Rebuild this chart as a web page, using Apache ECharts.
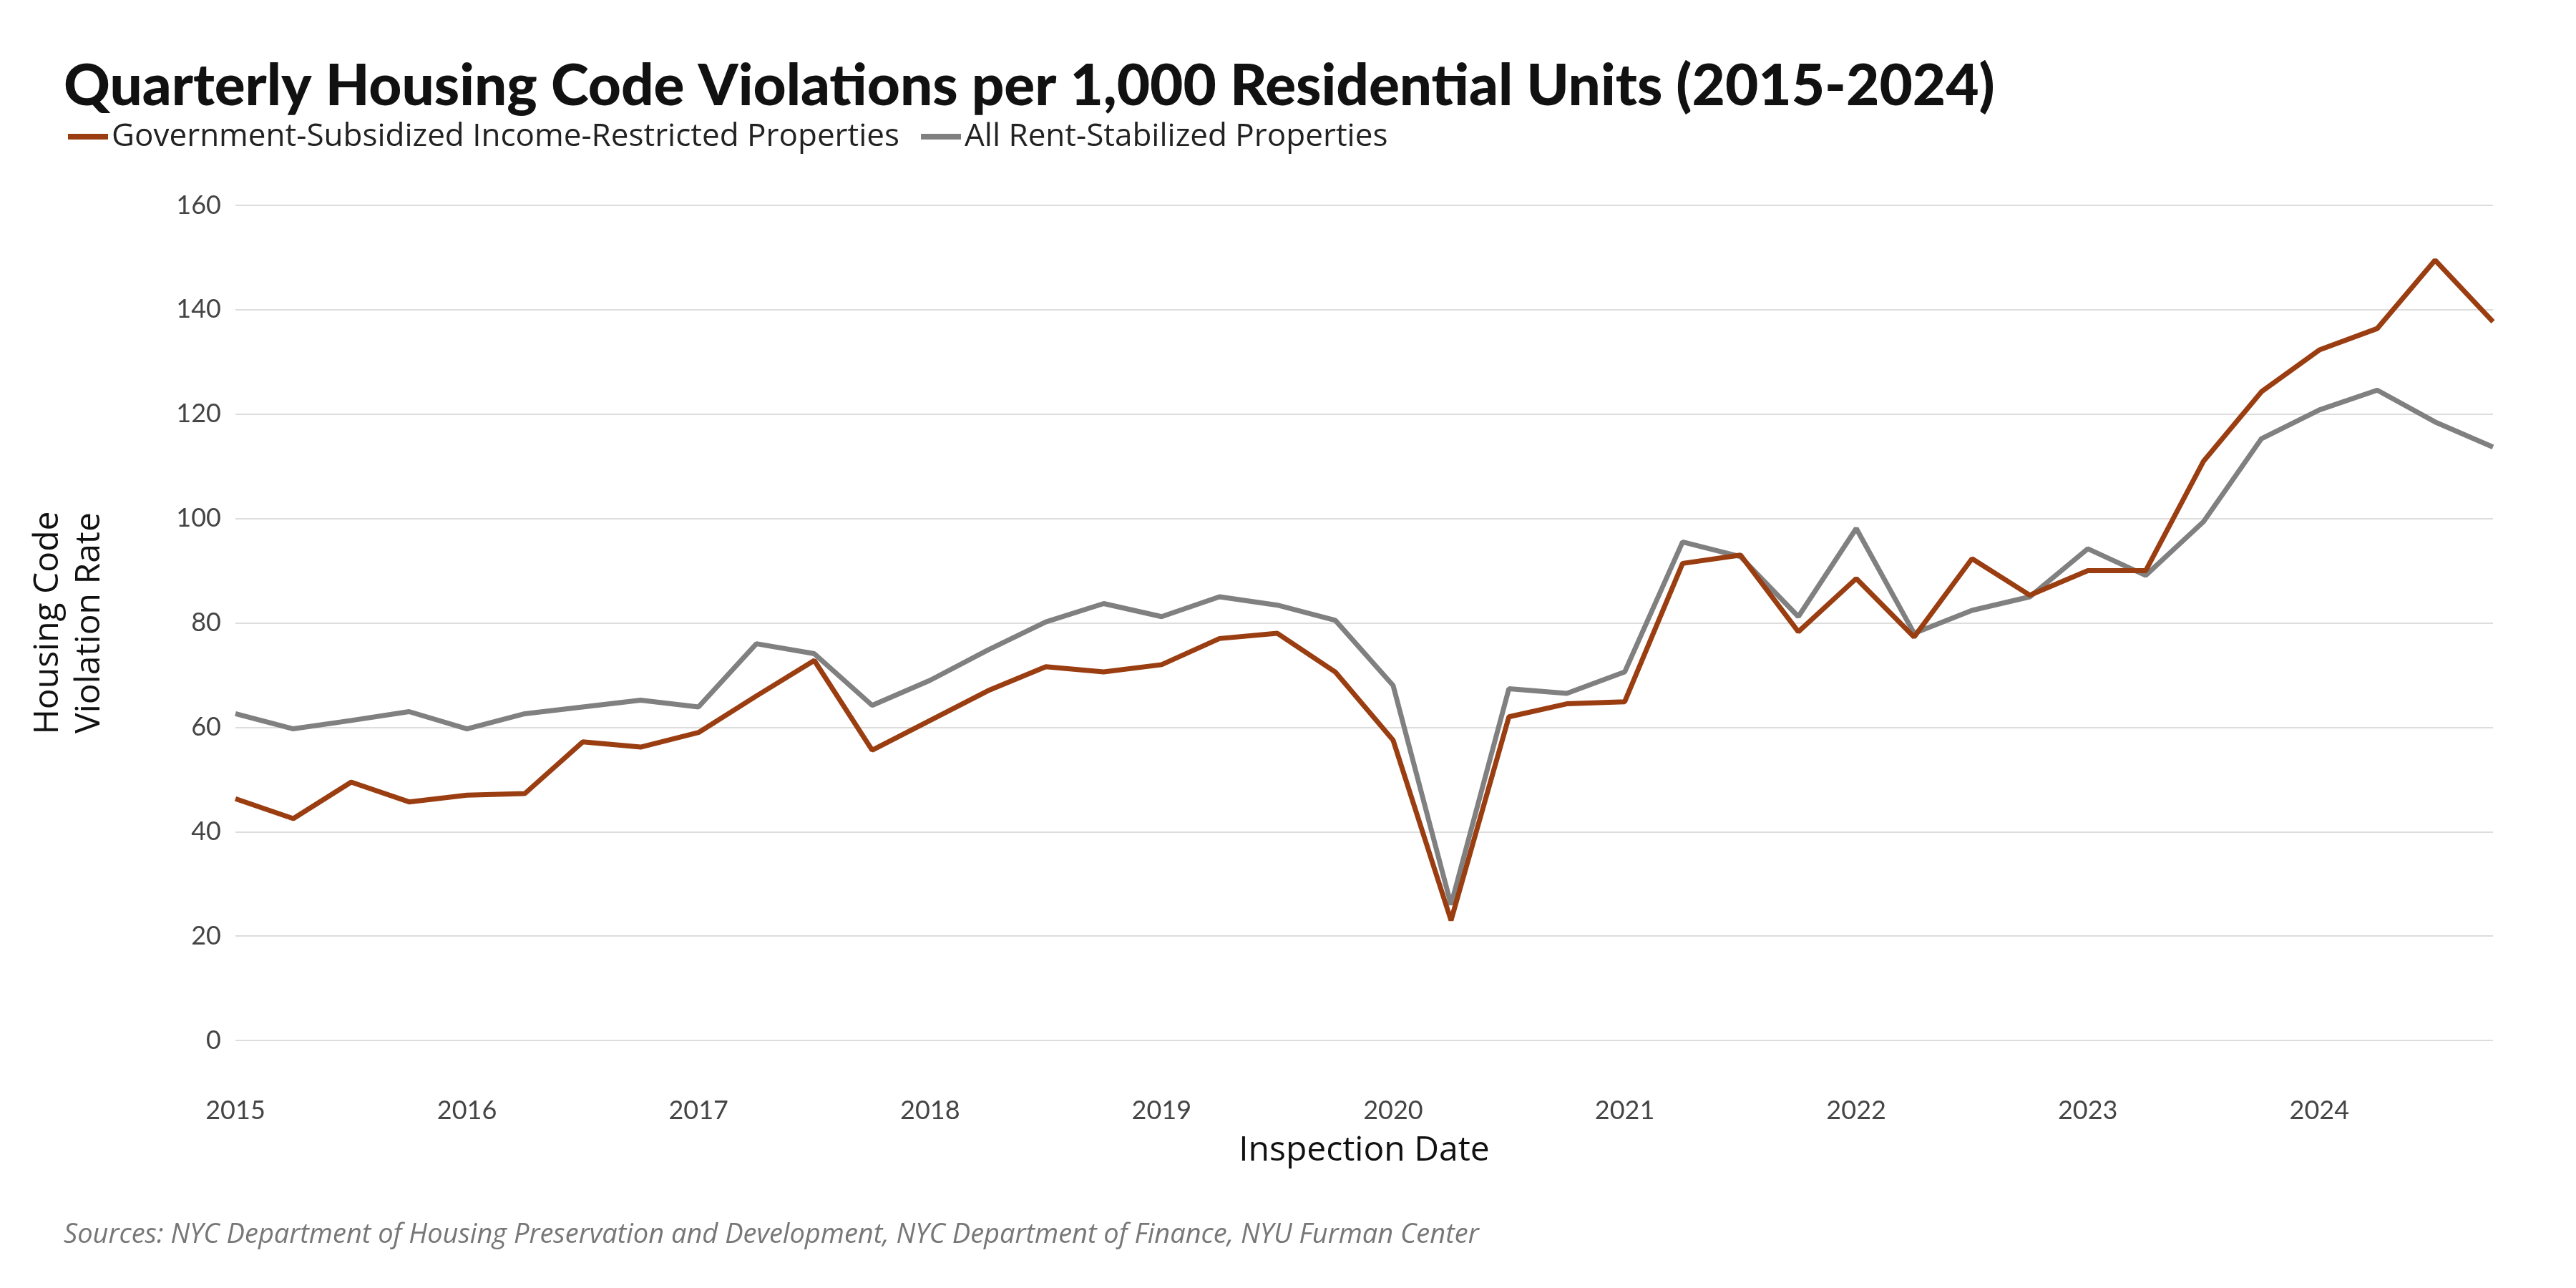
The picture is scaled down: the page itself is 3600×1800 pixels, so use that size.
<!DOCTYPE html>
<html><head><meta charset="utf-8">
<script src="https://cdn.jsdelivr.net/npm/echarts@6/dist/echarts.min.js"></script>
<style>html,body{margin:0;background:#fff}#c{width:3600px;height:1800px}</style>
</head><body><div id="c"></div>
<script>
const years = [2015, 2016, 2017, 2018, 2019, 2020, 2021, 2022, 2023, 2024]
const quarterOffsets = [0, 0.25, 0.5, 0.75]
const subsidized = [
  46.3, 42.5, 49.5, 45.7, 47, 47.3, 57.2, 56.2, 59, 66,
  72.8, 55.6, 61.3, 67, 71.6, 70.6, 72, 77, 78, 70.6,
  57.5, 23, 62, 64.5, 64.9, 91.4, 93, 78.3, 88.5, 77.3,
  92.3, 85.3, 90, 90, 111, 124.3, 132.3, 136.4, 149.5, 137.7
]
const stabilized = [
  62.6, 59.7, 61.3, 63, 59.7, 62.6, 63.9, 65.2, 63.9, 76,
  74.1, 64.2, 69, 74.8, 80.2, 83.7, 81.2, 85, 83.4, 80.5,
  68, 26, 67.4, 66.5, 70.6, 95.5, 92.7, 81.2, 98.1, 78,
  82.4, 85, 94.2, 89.1, 99.4, 115.3, 120.8, 124.6, 118.5, 113.7
]

const dates = years.flatMap(y => quarterOffsets.map(q => y + q))
const pairs = (vals) => vals.map((v, i) => [dates[i], v])

const chart = echarts.init(document.getElementById('c'))
const font = 'Lato'
chart.setOption({
  animation: false,
  title: [
    {
      text: 'Quarterly Housing Code Violations per 1,000 Residential Units (2015-2024)',
      left: 84, top: 76,
      textStyle: { fontFamily: font, fontWeight: 900, fontSize: 80, color: '#111' }
    },
    {
      text: 'Sources: NYC Department of Housing Preservation and Development, NYC Department of Finance, NYU Furman Center',
      left: 84, top: 1702,
      textStyle: { fontFamily: 'Open Sans', fontStyle: 'italic', fontWeight: 'normal', fontSize: 38, color: '#777' }
    }
  ],
  legend: {
    left: 90, top: 164, itemWidth: 56, itemHeight: 8, itemGap: 30,
    icon: 'rect',
    textStyle: { fontFamily: 'Open Sans', fontSize: 44, color: '#222' },
    data: ['Government-Subsidized Income-Restricted Properties', 'All Rent-Stabilized Properties']
  },
  grid: { left: 329, right: 116, top: 287, bottom: 346 },
  xAxis: {
    type: 'value', min: 2015, max: 2024.75, interval: 1,
    name: 'Inspection Date', nameLocation: 'middle', nameGap: 130,
    nameTextStyle: { fontFamily: 'Open Sans', fontSize: 48, color: '#111' },
    axisLine: { show: false }, axisTick: { show: false }, splitLine: { show: false },
    axisLabel: {
      margin: 80, showMaxLabel: false, fontFamily: font, fontSize: 36, color: '#444',
      formatter: v => Number.isInteger(v) ? String(v) : ''
    }
  },
  yAxis: {
    type: 'value', min: 0, max: 160, interval: 20,
    name: 'Housing Code\nViolation Rate', nameLocation: 'middle', nameGap: 175,
    nameTextStyle: { fontFamily: 'Open Sans', fontSize: 48, color: '#111', lineHeight: 58 },
    axisLine: { show: false }, axisTick: { show: false },
    splitLine: { lineStyle: { color: '#dddddd', width: 2 } },
    axisLabel: { margin: 20, fontFamily: font, fontSize: 36, color: '#444' }
  },
  series: [
    {
      name: 'All Rent-Stabilized Properties', type: 'line', data: pairs(stabilized),
      showSymbol: false, lineStyle: { color: '#808080', width: 7 }, itemStyle: { color: '#808080' }
    },
    {
      name: 'Government-Subsidized Income-Restricted Properties', type: 'line', data: pairs(subsidized),
      showSymbol: false, lineStyle: { color: '#9a3e12', width: 7 }, itemStyle: { color: '#9a3e12' }
    }
  ]
})
</script></body></html>
